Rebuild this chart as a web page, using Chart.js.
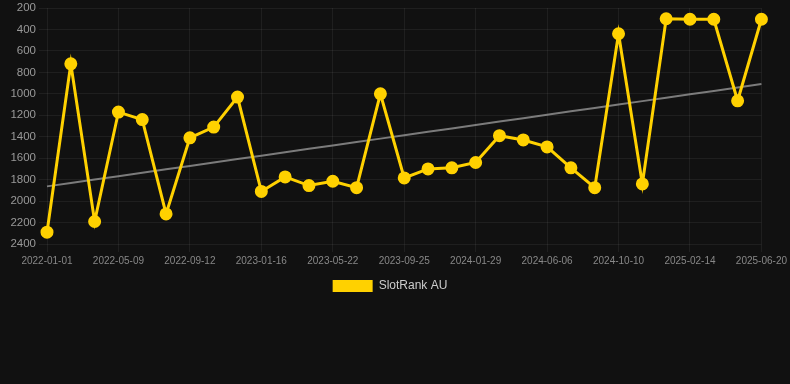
<!DOCTYPE html>
<html>
<head>
<meta charset="utf-8">
<script src="https://cdn.jsdelivr.net/npm/chart.js@4/dist/chart.umd.min.js"></script>
<style>
html,body{margin:0;padding:0;background:#111111;}
#wrap{position:relative;width:790px;height:302px;}
</style>
</head>
<body>
<div id="wrap"><canvas id="c"></canvas></div>
<script>
const categories = [
  "2022-01-01","2022-02-12","2022-03-26","2022-05-09","2022-06-20","2022-08-01",
  "2022-09-12","2022-10-24","2022-12-05","2023-01-16","2023-02-27","2023-04-10",
  "2023-05-22","2023-07-03","2023-08-14","2023-09-25","2023-11-06","2023-12-18",
  "2024-01-29","2024-03-11","2024-04-22","2024-06-06","2024-07-18","2024-08-29",
  "2024-10-10","2024-11-21","2025-01-02","2025-02-14","2025-03-28","2025-05-09",
  "2025-06-20"
];
const rankValues = [
  2290, 720, 2190, 1170, 1240, 2120, 1410, 1310, 1030, 1910, 1775, 1855,
  1815, 1875, 1000, 1784, 1700, 1690, 1640, 1390, 1430, 1495, 1690, 1875,
  440, 1840, 300, 305, 305, 1065, 305
];
const yTicks = [200,400,600,800,1000,1200,1400,1600,1800,2000,2200,2400];
const seriesName = "SlotRank AU";

// linear regression trend from the data
const n = rankValues.length;
const meanX = (n - 1) / 2;
const meanY = rankValues.reduce((a,b)=>a+b,0) / n;
let sxy = 0, sxx = 0;
rankValues.forEach((v,i)=>{ sxy += (i-meanX)*(v-meanY); sxx += (i-meanX)*(i-meanX); });
const slope = sxy / sxx;
const trend = rankValues.map((v,i)=> meanY + slope*(i-meanX));

const legendShift = {
  id: 'legendShift',
  afterLayout(chart) {
    if (chart.legend) { chart.legend.left -= 5; chart.legend.right -= 5; }
  }
};

new Chart(document.getElementById('c'), {
  type: 'line',
  plugins: [legendShift],
  data: {
    labels: categories,
    datasets: [
      {
        label: seriesName,
        data: rankValues,
        borderColor: '#FFD100',
        backgroundColor: '#FFD100',
        borderWidth: 3,
        pointRadius: 5,
        pointHoverRadius: 5,
        pointBackgroundColor: '#FFD100',
        pointBorderColor: '#FFD100',
        tension: 0,
        order: 1
      },
      {
        label: 'trend',
        data: trend,
        borderColor: 'rgba(150,150,150,0.8)',
        borderWidth: 2,
        pointRadius: 0,
        tension: 0,
        order: 2
      }
    ]
  },
  options: {
    responsive: true,
    maintainAspectRatio: false,
    animation: false,
    layout: { padding: { left: 0, right: 0, top: 0, bottom: 0 } },
    plugins: {
      legend: {
        position: 'bottom',
        labels: {
          color: '#cccccc',
          font: { family: 'Arial, "Liberation Sans", sans-serif', size: 12 },
          boxWidth: 40,
          boxHeight: 12,
          generateLabels: (chart) => {
            const items = Chart.defaults.plugins.legend.labels.generateLabels(chart);
            return items.filter(it => it.text !== 'trend').map(it => Object.assign(it, { lineWidth: 0 }));
          }
        }
      },
      tooltip: { enabled: false }
    },
    scales: {
      x: {
        type: 'category',
        offset: false,
        grid: {
          color: (ctx) => (ctx.index % 3 === 0 ? 'rgba(255,255,255,0.06)' : 'rgba(0,0,0,0)'),
          tickLength: 8
        },
        border: { display: false },
        ticks: {
          autoSkip: false,
          maxRotation: 0,
          minRotation: 0,
          color: '#888888',
          font: { family: 'Arial, "Liberation Sans", sans-serif', size: 10 },
          callback: function(val, idx) { return idx % 3 === 0 ? categories[idx] : ''; }
        }
      },
      y: {
        reverse: true,
        min: yTicks[0],
        max: yTicks[yTicks.length-1],
        afterBuildTicks: (axis) => { axis.ticks = yTicks.map(v => ({ value: v })); },
        afterFit: (axis) => { axis.width = 47; },
        grid: { color: 'rgba(255,255,255,0.06)', tickLength: 8 },
        border: { display: false },
        ticks: {
          color: '#999999',
          font: { family: 'Arial, "Liberation Sans", sans-serif', size: 11.5, lineHeight: 0.5 },
          callback: (v) => String(v)
        }
      }
    }
  }
});
</script>
</body>
</html>
